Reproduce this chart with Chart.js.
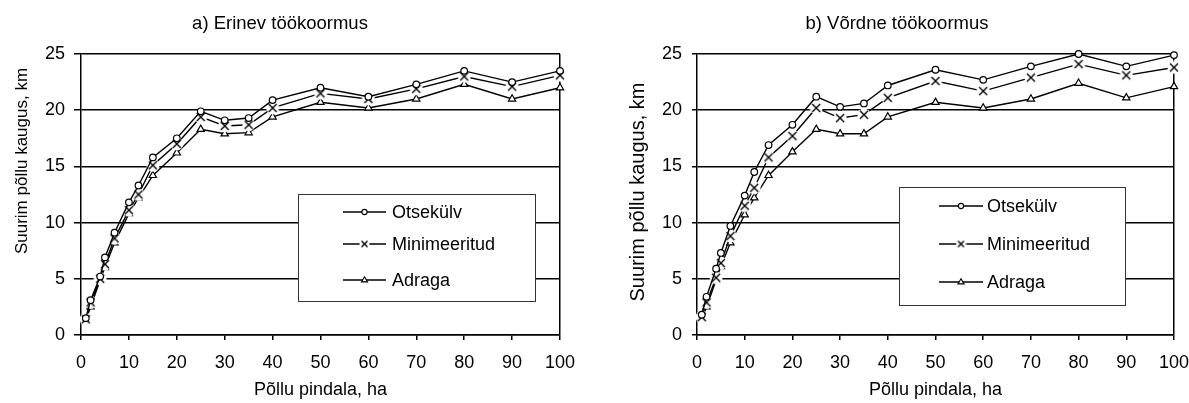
<!DOCTYPE html>
<html>
<head>
<meta charset="utf-8">
<script src="https://cdn.jsdelivr.net/npm/chart.js@4.4.1/dist/chart.umd.min.js"></script>
<style>
  html, body { margin: 0; padding: 0; background: #fff; overflow: hidden; }
  #wrap { position: relative; width: 1189px; height: 403px; background: #fff; overflow: hidden; }
  canvas { position: absolute; top: 0; }
</style>
</head>
<body>
<div id="wrap">
  <canvas id="chartA" width="583" height="403" style="left:0px"></canvas>
  <canvas id="chartB" width="572" height="403" style="left:620px"></canvas>
</div>
<script>
// ---------------- data ----------------
const AREA = [1, 2, 4, 5, 7, 10, 12, 15, 20, 25, 30, 35, 40, 50, 60, 70, 80, 90, 100];

const SERIES_NAMES = ["Otsekülv", "Minimeeritud", "Adraga"];

// a) Erinev töökoormus
const OTSE_A = [1.5, 3.1, 5.2, 6.9, 9.1, 11.8, 13.3, 15.8, 17.5, 19.9, 19.1, 19.3, 20.9, 22.0, 21.2, 22.3, 23.5, 22.5, 23.5];
const MIN_A  = [1.4, 2.9, 5.0, 6.3, 8.6, 11.1, 12.5, 15.1, 17.0, 19.4, 18.6, 18.7, 20.2, 21.5, 21.0, 21.9, 23.0, 22.1, 23.1];
const ADR_A  = [1.3, 2.5, 4.9, 6.0, 8.2, 10.8, 12.2, 14.2, 16.2, 18.3, 17.9, 18.0, 19.4, 20.7, 20.2, 21.0, 22.3, 21.0, 22.0];

// b) Võrdne töökoormus
const OTSE_B = [1.8, 3.4, 5.9, 7.3, 9.7, 12.4, 14.5, 16.9, 18.7, 21.2, 20.3, 20.6, 22.2, 23.6, 22.7, 23.9, 25.0, 23.9, 24.9];
const MIN_B  = [1.6, 2.9, 5.1, 6.4, 8.8, 11.5, 13.1, 15.8, 17.7, 20.2, 19.3, 19.6, 21.1, 22.6, 21.7, 22.9, 24.1, 23.1, 23.8];
const ADR_B  = [1.4, 2.5, 4.9, 6.1, 8.2, 10.7, 12.2, 14.2, 16.3, 18.3, 17.9, 17.9, 19.4, 20.7, 20.2, 21.0, 22.4, 21.1, 22.1];

const X_TITLE = "Põllu pindala, ha";
const Y_TITLE = "Suurim põllu kaugus, km";

const FONT = "'Liberation Sans', Arial, Helvetica, sans-serif";

// ---------------- markers ----------------
// x marker with a white halo so the lines break around it
function makeCross(size, half) {
  const c = document.createElement("canvas");
  c.width = size;
  c.height = size;
  const g = c.getContext("2d");
  const m = size / 2;
  g.fillStyle = "#fff";
  g.beginPath();
  g.arc(m, m, m - 0.5, 0, Math.PI * 2);
  g.fill();
  g.strokeStyle = "#000";
  g.lineWidth = 1.4;
  g.beginPath();
  g.moveTo(m - half, m - half);
  g.lineTo(m + half, m + half);
  g.moveTo(m + half, m - half);
  g.lineTo(m - half, m + half);
  g.stroke();
  return c;
}

const CROSS = makeCross(14, 4);
const CROSS_SMALL = makeCross(11, 3);

function makeDatasets(otse, min, adr) {
  const pts = arr => AREA.map((x, i) => ({ x: x, y: arr[i] }));
  const base = {
    borderColor: "#000",
    borderWidth: 1.4,
    pointBorderColor: "#000",
    pointBackgroundColor: "#fff",
    pointBorderWidth: 1.2,
    tension: 0,
    clip: false
  };
  return [
    Object.assign({}, base, { label: SERIES_NAMES[0], data: pts(otse), pointStyle: "circle", pointRadius: 3.3 }),
    Object.assign({}, base, { label: SERIES_NAMES[1], data: pts(min), pointStyle: CROSS, pointRadius: 5 }),
    Object.assign({}, base, { label: SERIES_NAMES[2], data: pts(adr), pointStyle: "triangle", pointRadius: 4.2 })
  ];
}

// ---------------- plugins ----------------
const yTitlePlugin = {
  id: "yTitle",
  afterDraw(chart, args, opts) {
    const ctx = chart.ctx;
    ctx.save();
    ctx.translate(opts.x, opts.y);
    ctx.rotate(-Math.PI / 2);
    ctx.font = opts.size + "px " + FONT;
    ctx.fillStyle = "#000";
    ctx.textAlign = "center";
    ctx.textBaseline = "middle";
    ctx.fillText(Y_TITLE, 0, 0);
    ctx.restore();
  }
};

function drawLegendMarker(ctx, i, x, y) {
  if (i === 1) {
    ctx.drawImage(CROSS_SMALL, x - CROSS_SMALL.width / 2, y - CROSS_SMALL.height / 2);
    return;
  }
  ctx.fillStyle = "#fff";
  ctx.strokeStyle = "#000";
  ctx.lineWidth = 1.1;
  ctx.beginPath();
  if (i === 0) {
    ctx.arc(x, y, 2.6, 0, Math.PI * 2);
  } else {
    const r = 3.2;
    ctx.moveTo(x, y - r);
    ctx.lineTo(x + r * 0.95, y + r * 0.6);
    ctx.lineTo(x - r * 0.95, y + r * 0.6);
    ctx.closePath();
  }
  ctx.fill();
  ctx.stroke();
}

const boxLegendPlugin = {
  id: "boxLegend",
  afterDatasetsDraw(chart, args, o) {
    const ctx = chart.ctx;
    ctx.save();
    ctx.fillStyle = "#fff";
    ctx.fillRect(o.x, o.y, o.w, o.h);
    ctx.strokeStyle = "#333";
    ctx.lineWidth = 1;
    ctx.strokeRect(o.x + 0.5, o.y + 0.5, o.w, o.h);
    ctx.font = "18px " + FONT;
    ctx.textBaseline = "middle";
    chart.data.datasets.forEach((ds, i) => {
      const ry = o.rows[i];
      ctx.strokeStyle = "#000";
      ctx.lineWidth = 1.4;
      ctx.beginPath();
      ctx.moveTo(o.lx0, ry);
      ctx.lineTo(o.lx1, ry);
      ctx.stroke();
      drawLegendMarker(ctx, i, (o.lx0 + o.lx1) / 2, ry);
      ctx.fillStyle = "#000";
      ctx.fillText(ds.label, o.tx, ry + 1);
    });
    ctx.restore();
  }
};

// ---------------- chart factory ----------------
function makeChart(id, cfg) {
  const tickFont = { family: FONT, size: 18 };
  return new Chart(document.getElementById(id), {
    type: "line",
    data: { datasets: makeDatasets(cfg.otse, cfg.min, cfg.adr) },
    options: {
      responsive: false,
      animation: false,
      events: [],
      layout: { padding: { left: 0, right: cfg.padRight, top: 0, bottom: 0 } },
      plugins: {
        legend: { display: false },
        tooltip: { enabled: false },
        title: {
          display: true,
          text: cfg.title,
          color: "#000",
          font: { family: FONT, size: 18.5, weight: "normal" },
          padding: { top: 12.9, bottom: 18.9 }
        },
        yTitle: cfg.yTitle,
        boxLegend: cfg.legend
      },
      scales: {
        x: {
          type: "linear",
          min: 0,
          max: 100,
          // fixed axis band; labels may spill into the outer padding
          afterFit: s => { s.height = 68; s.paddingLeft = 0; s.paddingRight = 0; },
          ticks: { stepSize: 10, color: "#000", font: tickFont, padding: 12, maxRotation: 0 },
          grid: {
            color: c => (c.tick && c.tick.value === 100 ? "#000" : "rgba(0,0,0,0)"),
            tickColor: "#000",
            tickLength: 5,
            lineWidth: 1.5
          },
          border: { color: "#000", width: 1.5 },
          title: {
            display: true,
            text: X_TITLE,
            color: "#000",
            font: { family: FONT, size: 18 },
            padding: { top: 0, bottom: 2 }
          }
        },
        y: {
          min: 0,
          max: 25,
          afterFit: s => { s.width = cfg.yWidth; },
          ticks: { stepSize: 5, color: "#000", font: tickFont, padding: cfg.yPad },
          grid: { color: "#000", lineWidth: 1.5, tickLength: cfg.yTick },
          border: { color: "#000", width: 1.5 }
        }
      }
    },
    plugins: [yTitlePlugin, boxLegendPlugin]
  });
}

// left chart, canvas at x = 0
makeChart("chartA", {
  title: "a) Erinev töökoormus",
  otse: OTSE_A, min: MIN_A, adr: ADR_A,
  yWidth: 81, padRight: 23, yPad: 9, yTick: 7,
  yTitle: { x: 22, y: 161, size: 17 },
  legend: { x: 298, y: 194, w: 237, h: 107, rows: [212, 244, 280], lx0: 343, lx1: 386, tx: 392 }
});

// right chart, canvas at x = 620
makeChart("chartB", {
  title: "b) Võrdne töökoormus",
  otse: OTSE_B, min: MIN_B, adr: ADR_B,
  yWidth: 77, padRight: 18, yPad: 10, yTick: 5,
  yTitle: { x: 18.3, y: 192, size: 20 },
  legend: { x: 279, y: 187, w: 226, h: 118, rows: [206, 244, 282], lx0: 319, lx1: 363, tx: 367 }
});
</script>
</body>
</html>
